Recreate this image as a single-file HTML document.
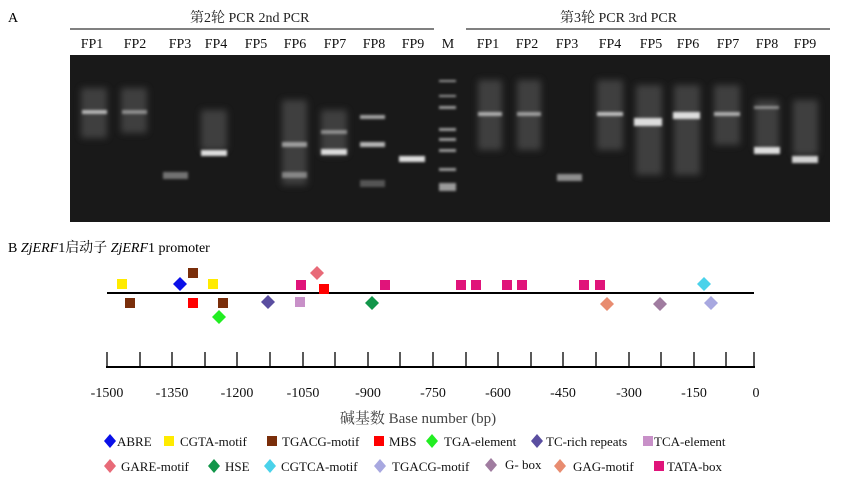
<!DOCTYPE html>
<html><head><meta charset="utf-8"><style>
body{margin:0;background:#fff;}
svg text{font-family:"Liberation Serif","Noto Serif CJK SC",serif;}
</style></head><body>
<svg width="864" height="490" viewBox="0 0 864 490" xmlns="http://www.w3.org/2000/svg">
<defs>
<filter id="b" x="-50%" y="-200%" width="200%" height="500%"><feGaussianBlur stdDeviation="1.4"/></filter>
<filter id="s" x="-50%" y="-50%" width="200%" height="200%"><feGaussianBlur stdDeviation="3.5"/></filter>
</defs>
<text x="8" y="22" font-size="14">A</text>
<text x="190" y="22" font-size="14" fill="#222">第2轮 PCR  2nd PCR</text>
<text x="560" y="22" font-size="14" fill="#222">第3轮 PCR  3rd PCR</text>
<line x1="70" y1="29" x2="434" y2="29" stroke="#000"/>
<line x1="466" y1="29" x2="830" y2="29" stroke="#000"/>
<g font-size="14" text-anchor="middle" fill="#111">
<text x="92" y="48">FP1</text><text x="135" y="48">FP2</text><text x="180" y="48">FP3</text><text x="216" y="48">FP4</text><text x="256" y="48">FP5</text><text x="295" y="48">FP6</text><text x="335" y="48">FP7</text><text x="374" y="48">FP8</text><text x="413" y="48">FP9</text><text x="448" y="48">M</text>
<text x="488" y="48">FP1</text><text x="527" y="48">FP2</text><text x="567" y="48">FP3</text><text x="610" y="48">FP4</text><text x="651" y="48">FP5</text><text x="688" y="48">FP6</text><text x="728" y="48">FP7</text><text x="767" y="48">FP8</text><text x="805" y="48">FP9</text>
</g>
<rect x="70" y="55" width="760" height="167" fill="#191919"/>
<g fill="#666" filter="url(#s)" opacity="0.5">
<rect x="81" y="88" width="26" height="50"/><rect x="121" y="88" width="26" height="45"/>
<rect x="201" y="110" width="26" height="40"/>
<rect x="282" y="100" width="25" height="85"/><rect x="321" y="110" width="26" height="45"/>
<rect x="478" y="80" width="24" height="70"/><rect x="517" y="80" width="24" height="70"/>
<rect x="597" y="80" width="26" height="70"/><rect x="636" y="85" width="26" height="90"/>
<rect x="674" y="85" width="26" height="90"/><rect x="714" y="85" width="26" height="60"/>
<rect x="755" y="100" width="24" height="50"/><rect x="793" y="100" width="25" height="55"/>
</g>
<g fill="#ddd" filter="url(#b)">
<rect x="82" y="110" width="25" height="4" opacity="0.75"/><rect x="122" y="110" width="25" height="4" opacity="0.5"/>
<rect x="163" y="172" width="25" height="7" opacity="0.45"/>
<rect x="201" y="150" width="26" height="6" opacity="1"/>
<rect x="282" y="142" width="25" height="5" opacity="0.6"/><rect x="282" y="172" width="25" height="6" opacity="0.45"/>
<rect x="321" y="130" width="26" height="4" opacity="0.5"/><rect x="321" y="149" width="26" height="6" opacity="1"/>
<rect x="360" y="115" width="25" height="4" opacity="0.7"/><rect x="360" y="142" width="25" height="5" opacity="0.8"/><rect x="360" y="180" width="25" height="7" opacity="0.3"/>
<rect x="399" y="156" width="26" height="6" opacity="1"/>
<rect x="478" y="112" width="24" height="4" opacity="0.7"/><rect x="517" y="112" width="24" height="4" opacity="0.6"/>
<rect x="557" y="174" width="25" height="7" opacity="0.6"/>
<rect x="597" y="112" width="26" height="4" opacity="0.8"/>
<rect x="634" y="118" width="28" height="8" opacity="1"/>
<rect x="673" y="112" width="27" height="7" opacity="1"/>
<rect x="714" y="112" width="26" height="4" opacity="0.7"/>
<rect x="754" y="106" width="25" height="3" opacity="0.5"/><rect x="754" y="147" width="26" height="7" opacity="1"/>
<rect x="792" y="156" width="26" height="7" opacity="0.95"/>
</g>
<g fill="#bbb" filter="url(#b)" opacity="0.8">
<rect x="439" y="80" width="17" height="2"/><rect x="439" y="95" width="17" height="2"/><rect x="439" y="106" width="17" height="3"/><rect x="439" y="128" width="17" height="3"/><rect x="439" y="138" width="17" height="3"/><rect x="439" y="149" width="17" height="3"/><rect x="439" y="168" width="17" height="3"/><rect x="439" y="183" width="17" height="8"/>
</g>
<text x="8" y="252" font-size="14">B <tspan font-style="italic">ZjERF</tspan>1启动子 <tspan font-style="italic">ZjERF</tspan>1 promoter</text>
<line x1="107" y1="293" x2="754" y2="293" stroke="#000" stroke-width="2"/>
<g>
<rect x="117" y="279" width="10" height="10" fill="#ffeb00"/>
<rect x="208" y="279" width="10" height="10" fill="#ffeb00"/>
<rect x="188" y="268" width="10" height="10" fill="#7a2e0a"/>
<rect x="125" y="298" width="10" height="10" fill="#7a2e0a"/>
<rect x="218" y="298" width="10" height="10" fill="#7a2e0a"/>
<rect x="188" y="298" width="10" height="10" fill="#f00"/>
<rect x="319" y="284" width="10" height="10" fill="#f00"/>
<rect x="295" y="297" width="10" height="10" fill="#c890c8"/>
<g fill="#e0147a">
<rect x="296" y="280" width="10" height="10"/><rect x="380" y="280" width="10" height="10"/><rect x="456" y="280" width="10" height="10"/><rect x="471" y="280" width="10" height="10"/><rect x="502" y="280" width="10" height="10"/><rect x="517" y="280" width="10" height="10"/><rect x="579" y="280" width="10" height="10"/><rect x="595" y="280" width="10" height="10"/>
</g>
<polygon points="180,277 187,284 180,291 173,284" fill="#0a10e8"/>
<polygon points="219,310 226,317 219,324 212,317" fill="#22ee22"/>
<polygon points="268,295 275,302 268,309 261,302" fill="#5a4ea0"/>
<polygon points="317,266 324,273 317,280 310,273" fill="#e86a78"/>
<polygon points="372,296 379,303 372,310 365,303" fill="#12964a"/>
<polygon points="704,277 711,284 704,291 697,284" fill="#4ad2ea"/>
<polygon points="607,297 614,304 607,311 600,304" fill="#e88c70"/>
<polygon points="660,297 667,304 660,311 653,304" fill="#a07ca0"/>
<polygon points="711,296 718,303 711,310 704,303" fill="#a8a8e0"/>
</g>
<g stroke="#000" stroke-width="1.3">
<line x1="106" y1="367" x2="755" y2="367" stroke-width="2"/>
<line x1="107" y1="352" x2="107" y2="367"/><line x1="140" y1="352" x2="140" y2="367"/><line x1="172" y1="352" x2="172" y2="367"/><line x1="205" y1="352" x2="205" y2="367"/><line x1="237" y1="352" x2="237" y2="367"/><line x1="270" y1="352" x2="270" y2="367"/><line x1="303" y1="352" x2="303" y2="367"/><line x1="335" y1="352" x2="335" y2="367"/><line x1="368" y1="352" x2="368" y2="367"/><line x1="400" y1="352" x2="400" y2="367"/><line x1="433" y1="352" x2="433" y2="367"/><line x1="466" y1="352" x2="466" y2="367"/><line x1="498" y1="352" x2="498" y2="367"/><line x1="531" y1="352" x2="531" y2="367"/><line x1="563" y1="352" x2="563" y2="367"/><line x1="596" y1="352" x2="596" y2="367"/><line x1="629" y1="352" x2="629" y2="367"/><line x1="661" y1="352" x2="661" y2="367"/><line x1="694" y1="352" x2="694" y2="367"/><line x1="726" y1="352" x2="726" y2="367"/><line x1="754" y1="352" x2="754" y2="367"/>
</g>
<g font-size="14" text-anchor="middle" fill="#111">
<text x="107" y="397">-1500</text><text x="172" y="397">-1350</text><text x="237" y="397">-1200</text><text x="303" y="397">-1050</text><text x="368" y="397">-900</text><text x="433" y="397">-750</text><text x="498" y="397">-600</text><text x="563" y="397">-450</text><text x="629" y="397">-300</text><text x="694" y="397">-150</text><text x="756" y="397">0</text>
</g>
<text x="418" y="423" font-size="15" text-anchor="middle" fill="#444">碱基数 Base number (bp)</text>
<g font-size="13" fill="#111">
<polygon points="110,434 116,441 110,448 104,441" fill="#0a10e8"/><text x="117" y="446">ABRE</text>
<rect x="164" y="436" width="10" height="10" fill="#ffeb00"/><text x="180" y="446">CGTA-motif</text>
<rect x="267" y="436" width="10" height="10" fill="#7a2e0a"/><text x="282" y="446">TGACG-motif</text>
<rect x="374" y="436" width="10" height="10" fill="#f00"/><text x="389" y="446">MBS</text>
<polygon points="432,434 438,441 432,448 426,441" fill="#22ee22"/><text x="444" y="446">TGA-element</text>
<polygon points="537,434 543,441 537,448 531,441" fill="#5a4ea0"/><text x="546" y="446">TC-rich repeats</text>
<rect x="643" y="436" width="10" height="10" fill="#c890c8"/><text x="654" y="446">TCA-element</text>
<polygon points="110,459 116,466 110,473 104,466" fill="#e86a78"/><text x="121" y="471">GARE-motif</text>
<polygon points="214,459 220,466 214,473 208,466" fill="#12964a"/><text x="225" y="471">HSE</text>
<polygon points="270,459 276,466 270,473 264,466" fill="#4ad2ea"/><text x="281" y="471">CGTCA-motif</text>
<polygon points="380,459 386,466 380,473 374,466" fill="#a8a8e0"/><text x="392" y="471">TGACG-motif</text>
<polygon points="491,458 497,465 491,472 485,465" fill="#a07ca0"/><text x="505" y="469">G- box</text>
<polygon points="560,459 566,466 560,473 554,466" fill="#e88c70"/><text x="573" y="471">GAG-motif</text>
<rect x="654" y="461" width="10" height="10" fill="#e0147a"/><text x="667" y="471">TATA-box</text>
</g>
</svg>
</body></html>
